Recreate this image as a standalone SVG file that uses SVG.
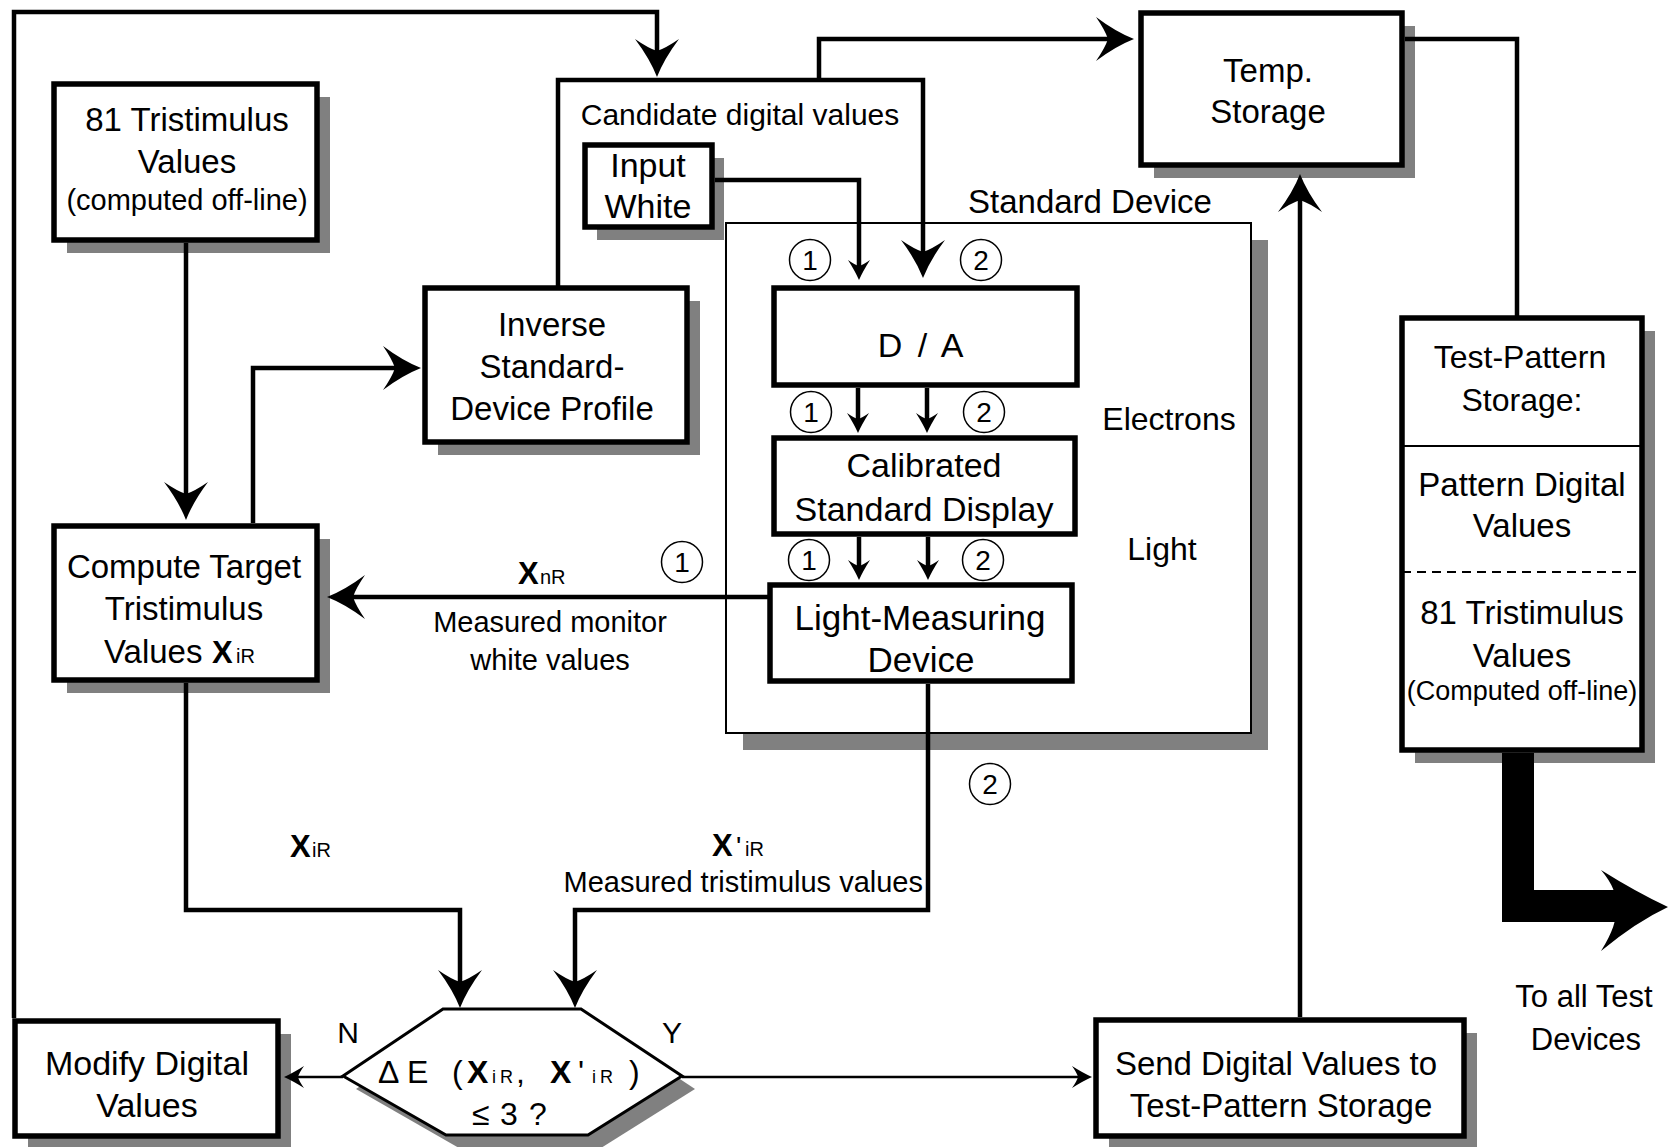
<svg xmlns="http://www.w3.org/2000/svg" width="1669" height="1147" viewBox="0 0 1669 1147">
<style>
.box{fill:#fff;stroke:#000;stroke-width:5.5}
.thin{fill:#fff;stroke:#000;stroke-width:2}
.sh{fill:#808080;stroke:none}
.c{fill:none;stroke:#000;stroke-width:4.5}
.ct{fill:none;stroke:#000;stroke-width:2.5}
.circ{fill:#fff;stroke:#000;stroke-width:1.5}
text{font-family:"Liberation Sans",Arial,sans-serif;fill:#000}
.m{text-anchor:middle}
.e{text-anchor:end}
.f27{font-size:27px}.f28{font-size:28px}.f29{font-size:29px}.f30{font-size:30px}.f31{font-size:31px}.f32{font-size:32px}.f33{font-size:33px}.f34{font-size:34px}.f35{font-size:35px}
.b{font-weight:bold}
.bx{font-weight:bold;font-size:31px}
.sub{font-size:20px}
.sub18{font-size:18px}
</style>
<defs>
<marker id="ab" markerUnits="userSpaceOnUse" viewBox="-14 -24 42 48" markerWidth="42" markerHeight="48" refX="0" refY="0" orient="auto" overflow="visible">
<path d="M26,0 Q8,-7 -12,-22 Q-3,-9 0,0 Q-3,9 -12,22 Q8,7 26,0 Z" fill="#000"/>
</marker>
<marker id="as" markerUnits="userSpaceOnUse" viewBox="-8 -12 24 24" markerWidth="24" markerHeight="24" refX="0" refY="0" orient="auto" overflow="visible">
<path d="M14,0 Q5,-4 -6,-11 Q-1,-4 0,0 Q-1,4 -6,11 Q5,4 14,0 Z" fill="#000"/>
</marker>
</defs>
<rect width="1669" height="1147" fill="#fff"/>

<g id="standard-device">
<rect class="sh" x="743" y="240" width="525" height="510"/>
<rect class="thin" x="726" y="223" width="525" height="510"/>
<text class="f33" x="1090" y="213" text-anchor="middle">Standard Device</text>
<text class="f32 m" x="1169" y="430">Electrons</text>
<text class="f32 m" x="1162" y="560">Light</text>
</g>

<g id="tristimulus-input">
<rect class="sh" x="67" y="97" width="263" height="156"/>
<rect class="box" x="54" y="84" width="263" height="156"/>
<text class="f33 m" x="187" y="131">81 Tristimulus</text>
<text class="f33 m" x="187" y="173">Values</text>
<text class="f29 m" x="187" y="210">(computed off-line)</text>
</g>

<g id="compute-target">
<rect class="sh" x="67" y="539" width="263" height="154"/>
<rect class="box" x="54" y="526" width="263" height="154"/>
<text class="f33 m" x="184" y="578">Compute Target</text>
<text class="f33 m" x="184" y="620">Tristimulus</text>
<text class="f33" x="104" y="663">Values<tspan x="212" class="bx">X</tspan><tspan x="236" class="sub">iR</tspan></text>
</g>

<g id="inverse-profile">
<rect class="sh" x="438" y="301" width="262" height="154"/>
<rect class="box" x="425" y="288" width="262" height="154"/>
<text class="f33 m" x="552" y="336">Inverse</text>
<text class="f33 m" x="552" y="378">Standard-</text>
<text class="f33 m" x="552" y="420">Device Profile</text>
</g>

<g id="candidate">
<text class="f30 m" x="740" y="125">Candidate digital values</text>
</g>

<g id="input-white">
<rect class="sh" x="597" y="158" width="127" height="82"/>
<rect class="box" x="585" y="145" width="127" height="82"/>
<text class="f34 m" x="648" y="177">Input</text>
<text class="f34 m" x="648" y="218">White</text>
</g>

<g id="temp-storage">
<rect class="sh" x="1154" y="26" width="261" height="152"/>
<rect class="box" x="1141" y="13" width="261" height="152"/>
<text class="f33 m" x="1268" y="82">Temp.</text>
<text class="f33 m" x="1268" y="123">Storage</text>
</g>

<g id="da">
<rect class="box" x="774" y="288" width="303" height="97"/>
<text class="f34 m" x="922" y="357" letter-spacing="3">D / A</text>
</g>

<g id="calibrated-display">
<rect class="box" x="774" y="438" width="301" height="96"/>
<text class="f34 m" x="924" y="477">Calibrated</text>
<text class="f34 m" x="924" y="521">Standard Display</text>
</g>

<g id="light-measuring">
<rect class="box" x="770" y="585" width="302" height="96"/>
<text class="f35 m" x="920" y="630">Light-Measuring</text>
<text class="f35 m" x="921" y="672">Device</text>
</g>

<g id="test-pattern-storage">
<rect class="sh" x="1415" y="331" width="240" height="432"/>
<rect class="box" x="1402" y="318" width="240" height="432"/>
<line x1="1402" y1="446" x2="1642" y2="446" stroke="#000" stroke-width="2"/>
<line x1="1402" y1="572" x2="1642" y2="572" stroke="#000" stroke-width="2" stroke-dasharray="9,6"/>
<text class="f32 m" x="1520" y="368">Test-Pattern</text>
<text class="f32 m" x="1522" y="411">Storage:</text>
<text class="f33 m" x="1522" y="496">Pattern Digital</text>
<text class="f33 m" x="1522" y="537">Values</text>
<text class="f33 m" x="1522" y="624">81 Tristimulus</text>
<text class="f33 m" x="1522" y="667">Values</text>
<text class="f27 m" x="1522" y="700">(Computed off-line)</text>
</g>

<g id="decision">
<polygon class="sh" points="356,1089 456,1022 594,1022 695,1089 601,1148 459,1148"/>
<polygon fill="#fff" stroke="#000" stroke-width="3" points="343,1076 443,1009 581,1009 682,1076 588,1135 446,1135"/>
<text class="f32" y="1083"><tspan x="378">Δ</tspan><tspan x="407">E</tspan><tspan x="452">(</tspan><tspan x="467" class="b">X</tspan><tspan x="492" class="sub18">i</tspan><tspan x="500" class="sub18">R</tspan><tspan x="516">,</tspan><tspan x="550" class="b">X</tspan><tspan x="578">'</tspan><tspan x="592" class="sub18">i</tspan><tspan x="600" class="sub18">R</tspan><tspan x="629">)</tspan></text>
<text class="f32" y="1125"><tspan x="472">≤</tspan><tspan x="500">3</tspan><tspan x="529">?</tspan></text>
<text class="f30 m" x="348" y="1043">N</text>
<text class="f30 m" x="672" y="1043">Y</text>
</g>

<g id="modify-digital">
<rect class="sh" x="28" y="1034" width="263" height="115"/>
<rect class="box" x="15" y="1021" width="263" height="115"/>
<text class="f34 m" x="147" y="1075">Modify Digital</text>
<text class="f34 m" x="147" y="1117">Values</text>
</g>

<g id="send-digital">
<rect class="sh" x="1109" y="1033" width="368" height="116"/>
<rect class="box" x="1096" y="1020" width="368" height="116"/>
<text class="f33 m" x="1276" y="1075">Send Digital Values to</text>
<text class="f33 m" x="1281" y="1117">Test-Pattern Storage</text>
</g>

<g id="connectors">
<path class="c" d="M14,1018 V12 H657 V51" marker-end="url(#ab)"/>
<path class="c" d="M186,243 V494" marker-end="url(#ab)"/>
<path class="c" d="M253,523 V368 H395" marker-end="url(#ab)"/>
<path class="c" d="M558,288 V80 H923 V252" marker-end="url(#ab)"/>
<path class="c" d="M819,80 V39 H1108" marker-end="url(#ab)"/>
<path class="c" d="M715,180 H859 V266" marker-end="url(#as)"/>
<path class="c" d="M858,388 V419" marker-end="url(#as)"/>
<path class="c" d="M927,388 V419" marker-end="url(#as)"/>
<path class="c" d="M859,537 V566" marker-end="url(#as)"/>
<path class="c" d="M928,537 V566" marker-end="url(#as)"/>
<path class="c" d="M769,597 H353" marker-end="url(#ab)"/>
<path class="c" d="M928,684 V910 H575 V982" marker-end="url(#ab)"/>
<path class="c" d="M186,683 V910 H460 V982" marker-end="url(#ab)"/>
<path class="ct" d="M343,1077 H298" marker-end="url(#as)"/>
<path class="ct" d="M682,1077 H1078" marker-end="url(#as)"/>
<path class="c" d="M1300,1017 V200" marker-end="url(#ab)"/>
<path class="c" d="M1405,39 H1517 V318"/>
<path d="M1518,753 V906 H1622" fill="none" stroke="#000" stroke-width="32" stroke-linejoin="miter"/>
<path d="M1668,907 Q1636,892 1601,870 Q1618,890 1616,907 Q1618,924 1601,951 Q1636,922 1668,907 Z" fill="#000"/>
</g>

<g id="labels">
<text y="584"><tspan x="518" class="bx">X</tspan><tspan x="540" class="sub">nR</tspan></text>
<text class="f29 m" x="550" y="632">Measured monitor</text>
<text class="f29 m" x="550" y="670">white values</text>
<text y="857"><tspan x="290" class="bx">X</tspan><tspan x="312" class="sub">iR</tspan></text>
<text y="856"><tspan x="712" class="bx">X</tspan><tspan x="736" class="f28">'</tspan><tspan x="745" class="sub">iR</tspan></text>
<text class="f29 e" x="923" y="892">Measured tristimulus values</text>
<text class="f31 m" x="1584" y="1007">To all Test</text>
<text class="f31 m" x="1586" y="1050">Devices</text>
</g>

<g id="markers-circled">
<circle class="circ" cx="810" cy="260" r="20.5"/><text class="f28 m" x="810" y="270">1</text>
<circle class="circ" cx="981" cy="260" r="20.5"/><text class="f28 m" x="981" y="270">2</text>
<circle class="circ" cx="811" cy="412" r="20.5"/><text class="f28 m" x="811" y="422">1</text>
<circle class="circ" cx="984" cy="412" r="20.5"/><text class="f28 m" x="984" y="422">2</text>
<circle class="circ" cx="809" cy="560" r="20.5"/><text class="f28 m" x="809" y="570">1</text>
<circle class="circ" cx="983" cy="560" r="20.5"/><text class="f28 m" x="983" y="570">2</text>
<circle class="circ" cx="682" cy="562" r="20.5"/><text class="f28 m" x="682" y="572">1</text>
<circle class="circ" cx="990" cy="784" r="20.5"/><text class="f28 m" x="990" y="794">2</text>
</g>
</svg>
